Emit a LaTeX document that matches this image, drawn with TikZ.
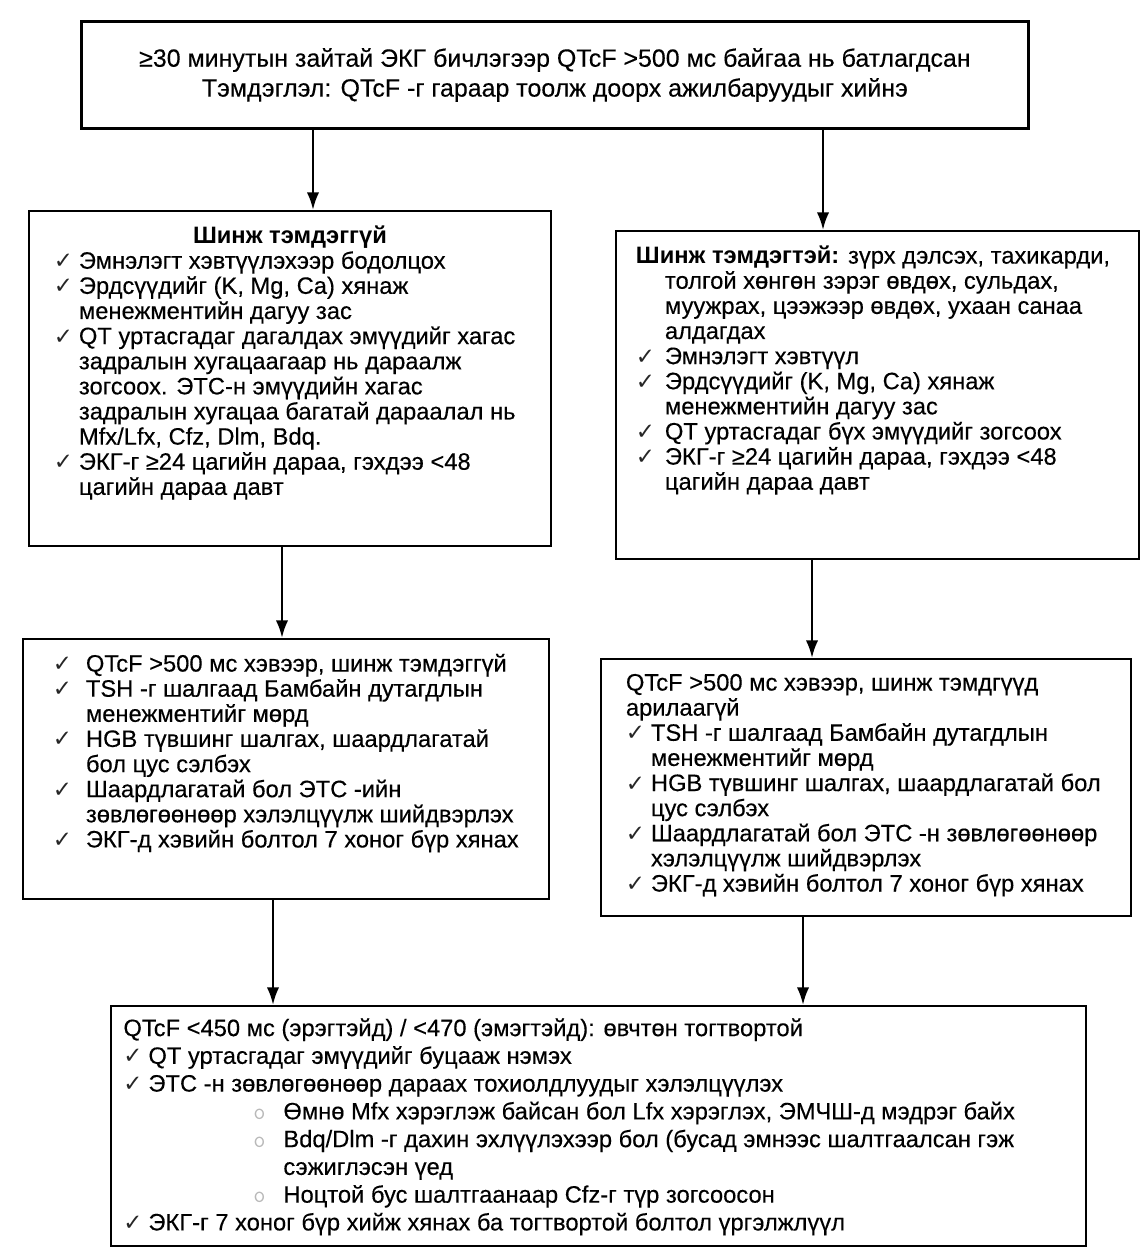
\documentclass[tikz,border=0pt]{standalone}
\usepackage{fontspec}
\setmainfont{Liberation Sans}[UprightFeatures={FakeBold=0.3}]
\newfontfamily\symfont{DejaVu Sans}
\usetikzlibrary{arrows.meta}

% check mark, line break and list lines
\newcommand\chk{{\symfont\fontsize{13}{13}\selectfont\textcolor{black!85}{✓}}}
\newcommand\nl{\newline}
\newcommand\itm[2]{\par\hangindent=#1\hangafter=1\noindent\makebox[#1][l]{\chk}#2}
\newcommand\subitm[1]{\par\hangindent=3.2cm\hangafter=1\noindent\hspace*{2.6cm}\makebox[0.6cm][l]{\textcolor{gray!55}{\ttfamily o}}#1}

\begin{document}
\begin{tikzpicture}[x=0.02cm, y=-0.02cm, >={Latex[length=10pt,width=7pt]},
  box/.style={draw, line width=1.1pt, anchor=north west, inner xsep=0pt,
    font=\fontsize{13.5}{14.3}\selectfont},
  arr/.style={->, line width=1.4pt}]
\useasboundingbox (0,0) rectangle (1146,1253);

\node[box, line width=1.7pt, inner sep=0pt, minimum width=18.94cm, minimum height=2.14cm,
  align=center, font=\fontsize{14.2}{17}\selectfont] (top) at (80,20)
  {≥30 минутын зайтай ЭКГ бичлэгээр QTcF >500 мс байгаа нь батлагдсан\\
   Тэмдэглэл: QTcF -г гараар тоолж доорх ажилбаруудыг хийнэ};

\node[box, inner ysep=0.3cm] (nosym) at (28,210)
  {\hspace*{0.5cm}\parbox[t][6.1cm][t]{9.94cm}{\raggedright
   \hspace*{-0.5cm}\makebox[10.44cm]{\bfseries Шинж тэмдэггүй}\par
   \itm{0.5cm}{Эмнэлэгт хэвтүүлэхээр бодолцох}
   \itm{0.5cm}{Эрдсүүдийг (K, Mg, Ca) хянаж\nl менежментийн дагуу зас}
   \itm{0.5cm}{QT уртасгадаг дагалдах эмүүдийг хагас\nl задралын хугацаагаар нь дараалж\nl зогсоох. ЭТС-н эмүүдийн хагас\nl задралын хугацаа багатай дараалал нь\nl Mfx/Lfx, Cfz, Dlm, Bdq.}
   \itm{0.5cm}{ЭКГ-г ≥24 цагийн дараа, гэхдээ <48\nl цагийн дараа давт}}};

\node[box, inner ysep=0.3cm] (sym) at (615,230)
  {\hspace*{0.4cm}\parbox[t][5.96cm][t]{10.06cm}{\raggedright
   \hangindent=0.58cm\hangafter=1\noindent\textbf{Шинж тэмдэгтэй:} зүрх дэлсэх, тахикарди,\nl толгой хөнгөн зэрэг өвдөх, сульдах,\nl муужрах, цээжээр өвдөх, ухаан санаа\nl алдагдах
   \itm{0.58cm}{Эмнэлэгт хэвтүүл}
   \itm{0.58cm}{Эрдсүүдийг (K, Mg, Ca) хянаж\nl менежментийн дагуу зас}
   \itm{0.58cm}{QT уртасгадаг бүх эмүүдийг зогсоох}
   \itm{0.58cm}{ЭКГ-г ≥24 цагийн дараа, гэхдээ <48\nl цагийн дараа давт}}};

\node[box, inner ysep=0.3cm] (nosym2) at (22,638)
  {\hspace*{0.6cm}\parbox[t][4.6cm][t]{9.92cm}{\raggedright
   \itm{0.66cm}{QTcF >500 мс хэвээр, шинж тэмдэггүй}
   \itm{0.66cm}{TSH -г шалгаад Бамбайн дутагдлын\nl менежментийг мөрд}
   \itm{0.66cm}{HGB түвшинг шалгах, шаардлагатай\nl бол цус сэлбэх}
   \itm{0.66cm}{Шаардлагатай бол ЭТС -ийн\nl зөвлөгөөнөөр хэлэлцүүлж шийдвэрлэх}
   \itm{0.66cm}{ЭКГ-д хэвийн болтол 7 хоног бүр хянах}}};

\node[box, inner ysep=0.3cm] (sym2) at (600,658)
  {\hspace*{0.5cm}\parbox[t][4.54cm][t]{10.1cm}{\raggedright
   QTcF >500 мс хэвээр, шинж тэмдгүүд\nl арилаагүй
   \itm{0.5cm}{TSH -г шалгаад Бамбайн дутагдлын\nl менежментийг мөрд}
   \itm{0.5cm}{HGB түвшинг шалгах, шаардлагатай бол\nl цус сэлбэх}
   \itm{0.5cm}{Шаардлагатай бол ЭТС -н зөвлөгөөнөөр\nl хэлэлцүүлж шийдвэрлэх}
   \itm{0.5cm}{ЭКГ-д хэвийн болтол 7 хоног бүр хянах}}};

\node[box, inner ysep=0.25cm, font=\fontsize{13.5}{15.8}\selectfont] (stable) at (110,1005)
  {\hspace*{0.25cm}\parbox[t][4.3cm][t]{19.25cm}{\raggedright
   QTcF <450 мс (эрэгтэйд) / <470 (эмэгтэйд): өвчтөн тогтвортой
   \itm{0.5cm}{QT уртасгадаг эмүүдийг буцааж нэмэх}
   \itm{0.5cm}{ЭТС -н зөвлөгөөнөөр дараах тохиолдлуудыг хэлэлцүүлэх}
   \subitm{Өмнө Mfx хэрэглэж байсан бол Lfx хэрэглэх, ЭМЧШ-д мэдрэг байх}
   \subitm{Bdq/Dlm -г дахин эхлүүлэхээр бол (бусад эмнээс шалтгаалсан гэж\nl сэжиглэсэн үед}
   \subitm{Ноцтой бус шалтгаанаар Cfz-г түр зогсоосон}
   \itm{0.5cm}{ЭКГ-г 7 хоног бүр хийж хянах ба тогтвортой болтол үргэлжлүүл}}};

% arrow columns
\coordinate (ca) at (313,0);
\coordinate (cb) at (823,0);
\coordinate (cc) at (282,0);
\coordinate (cd) at (812,0);
\coordinate (ce) at (273,0);
\coordinate (cf) at (803,0);

\draw[arr] (top.south -| ca) -- (nosym.north -| ca);
\draw[arr] (top.south -| cb) -- (sym.north -| cb);
\draw[arr] (nosym.south -| cc) -- (nosym2.north -| cc);
\draw[arr] (sym.south -| cd) -- (sym2.north -| cd);
\draw[arr] (nosym2.south -| ce) -- (stable.north -| ce);
\draw[arr] (sym2.south -| cf) -- (stable.north -| cf);
\end{tikzpicture}
\end{document}
